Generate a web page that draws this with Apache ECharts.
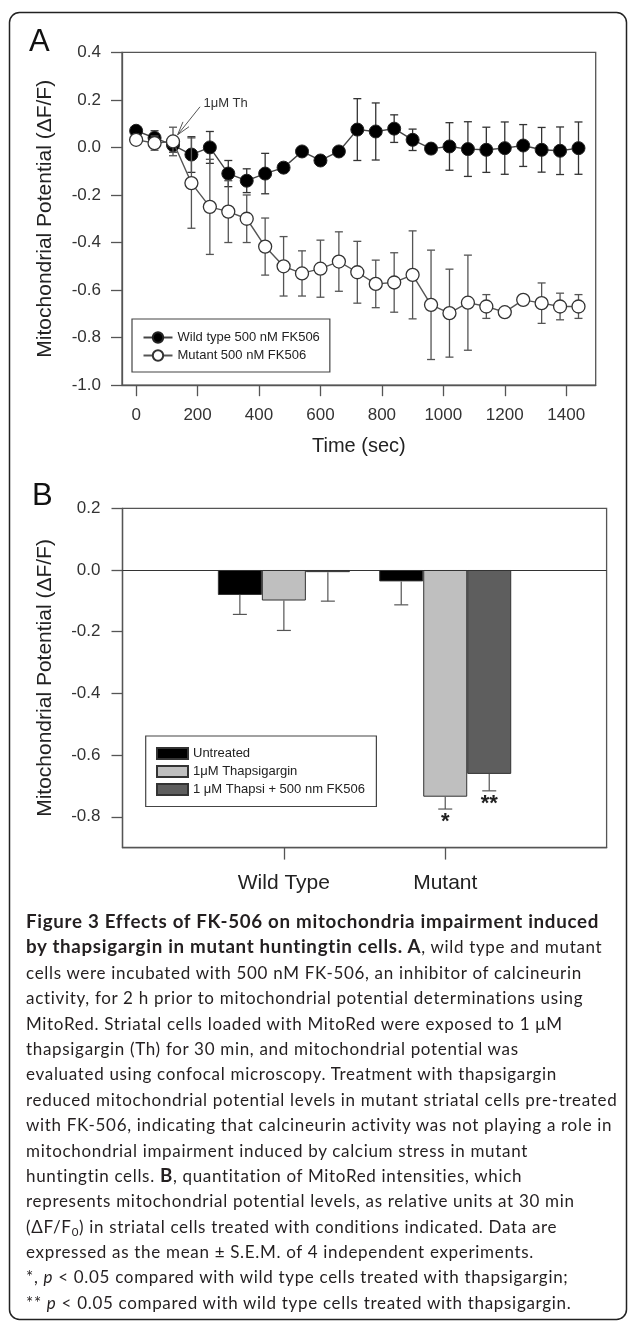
<!DOCTYPE html>
<html>
<head>
<meta charset="utf-8">
<script src="https://cdn.jsdelivr.net/npm/echarts@6/dist/echarts.min.js"></script>
<style>
html,body{margin:0;padding:0;background:#fff;}
#chart{position:absolute;left:0;top:0;width:629px;height:1337px;}
#caption{position:absolute;left:26px;top:909px;font-family:Lato,'Open Sans',sans-serif;font-size:17px;line-height:25.4px;color:#231f20;}
#caption .ln{white-space:nowrap;height:25.4px;}
#caption .ln span{display:inline-block;}
#caption b{line-height:0;}
#caption sub{font-size:0.68em;line-height:0;vertical-align:-0.25em;}
</style>
</head>
<body>
<div id="chart"></div>
<div id="caption">
<div class="ln"><span id="fitbold"><b>Figure 3 Effects of FK-506 on mitochondria impairment induced</b></span></div>
<div class="ln"><span><b>by thapsigargin in mutant huntingtin cells. A</b>, wild type and mutant</span></div>
<div class="ln"><span>cells were incubated with 500 nM FK-506, an inhibitor of calcineurin</span></div>
<div class="ln"><span>activity, for 2 h prior to mitochondrial potential determinations using</span></div>
<div class="ln"><span>MitoRed. Striatal cells loaded with MitoRed were exposed to 1 μM</span></div>
<div class="ln"><span>thapsigargin (Th) for 30 min, and mitochondrial potential was</span></div>
<div class="ln"><span>evaluated using confocal microscopy. Treatment with thapsigargin</span></div>
<div class="ln"><span id="fitline">reduced mitochondrial potential levels in mutant striatal cells pre-treated</span></div>
<div class="ln"><span>with FK-506, indicating that calcineurin activity was not playing a role in</span></div>
<div class="ln"><span>mitochondrial impairment induced by calcium stress in mutant</span></div>
<div class="ln"><span>huntingtin cells. <b>B</b>, quantitation of MitoRed intensities, which</span></div>
<div class="ln"><span>represents mitochondrial potential levels, as relative units at 30 min</span></div>
<div class="ln"><span>(ΔF/F<sub>0</sub>) in striatal cells treated with conditions indicated. Data are</span></div>
<div class="ln"><span>expressed as the mean ± S.E.M. of 4 independent experiments.</span></div>
<div class="ln"><span>*, <i>p</i> &lt; 0.05 compared with wild type cells treated with thapsigargin;</span></div>
<div class="ln"><span>** <i>p</i> &lt; 0.05 compared with wild type cells treated with thapsigargin.</span></div>
</div>
<script>
// ---------- Panel A data ----------
const timeSec = [0,60,120,180,240,300,360,420,480,540,600,660,720,780,840,900,960,1020,1080,1140,1200,1260,1320,1380,1440];
const wildTypeMean = [0.07,0.04,0.01,-0.03,0.0,-0.11,-0.14,-0.11,-0.085,-0.017,-0.055,-0.017,0.075,0.067,0.079,0.032,-0.005,0.004,-0.007,-0.01,-0.003,0.008,-0.01,-0.014,-0.003];
const wildTypeSem  = [0.01,0.03,0.03,0.075,0.067,0.055,0.05,0.085,0.01,0.01,0.01,0.01,0.13,0.12,0.058,0.045,0.01,0.1,0.115,0.095,0.11,0.088,0.094,0.1,0.11];
const mutantMean = [0.032,0.018,0.025,-0.15,-0.25,-0.27,-0.30,-0.417,-0.50,-0.53,-0.51,-0.48,-0.525,-0.574,-0.568,-0.536,-0.662,-0.697,-0.653,-0.669,-0.693,-0.641,-0.655,-0.669,-0.669];
const mutantSem  = [0.02,0.03,0.06,0.19,0.2,0.13,0.1,0.12,0.125,0.095,0.12,0.125,0.13,0.1,0.125,0.185,0.23,0.185,0.2,0.05,0.01,0.015,0.085,0.056,0.05];
const xTicksA = [0,200,400,600,800,1000,1200,1400];
const seriesNamesA = ['Wild type 500 nM FK506','Mutant 500 nM FK506'];
const annotationLabel = '1\u03bcM Th';
const annotation = [208, 0.171, 135, 0.053, 219, 0.186]; // tail t,v ; tip t,v ; text t,v

// ---------- Panel B data ----------
const groupsB = ['Wild Type','Mutant'];
const treatmentsB = ['Untreated','1\u03bcM Thapsigargin','1 \u03bcM Thapsi + 500 nm FK506'];
const untreatedB = [-0.081,-0.037];
const thapsigarginB = [-0.099,-0.735];
const thapsiFK506B = [-0.007,-0.661];
const untreatedErrB = [0.063,0.076];
const thapsigarginErrB = [0.097,0.04];
const thapsiFK506ErrB = [0.094,0.055];
const signifB = [['',''],['','*'],['','**']];
const yTicksB = [-0.8,-0.6,-0.4,-0.2,0.0,0.2];

const FONT = "'Liberation Sans', Arial, sans-serif";
const AX = '#555';
const fmt1 = v => (Math.abs(v) < 1e-9 ? 0 : v).toFixed(1);

function errRenderA(color){
  return function(params, api){
    const x = api.value(0), m = api.value(1), e = api.value(2);
    const t = api.coord([x, m + e]), b = api.coord([x, m - e]);
    const hw = 4;
    const st = {stroke: color, lineWidth: 1.3};
    return {type:'group', children:[
      {type:'line', shape:{x1:t[0], y1:t[1], x2:b[0], y2:b[1]}, style:st},
      {type:'line', shape:{x1:t[0]-hw, y1:t[1], x2:t[0]+hw, y2:t[1]}, style:st},
      {type:'line', shape:{x1:b[0]-hw, y1:b[1], x2:b[0]+hw, y2:b[1]}, style:st}
    ]};
  };
}

const BARW = 44;
function errRenderB(k){
  return function(params, api){
    const c = api.coord([api.value(0), api.value(1)]);
    const lo = api.coord([api.value(0), api.value(1) - api.value(2)]);
    const x = c[0] + (k - 1) * BARW;
    const hw = 7;
    const st = {stroke:'#555', lineWidth:1.2};
    const kids = [
      {type:'line', shape:{x1:x, y1:c[1], x2:x, y2:lo[1]}, style:st},
      {type:'line', shape:{x1:x-hw, y1:lo[1], x2:x+hw, y2:lo[1]}, style:st}
    ];
    const s = signifB[k][params.dataIndex];
    if (s) kids.push({type:'text', style:{x:x, y:lo[1]+2, text:s, align:'center', verticalAlign:'top', fontSize:22, fontWeight:'bold', fill:'#222', fontFamily:FONT}});
    return {type:'group', children:kids};
  };
}

const chart = echarts.init(document.getElementById('chart'), null, {renderer:'canvas'});

const catB = [''].concat(groupsB, [' ']);
const padB = arr => ['-'].concat(arr, ['-']);
const barColors = ['#000000','#bfbfbf','#5e5e5e'];
const barVals = [untreatedB, thapsigarginB, thapsiFK506B];
const barErrs = [untreatedErrB, thapsigarginErrB, thapsiFK506ErrB];

const series = [
  {type:'custom', name:'wtErr', xAxisIndex:0, yAxisIndex:0, z:2, renderItem: errRenderA('#333'),
   encode:{x:0, y:1}, data: timeSec.map((t,i)=>[t, wildTypeMean[i], wildTypeSem[i]]), silent:true},
  {type:'line', name:seriesNamesA[0], xAxisIndex:0, yAxisIndex:0, z:3,
   data: timeSec.map((t,i)=>[t, wildTypeMean[i]]), symbol:'circle', symbolSize:13,
   itemStyle:{color:'#000', borderColor:'#222', borderWidth:1}, lineStyle:{color:'#444', width:1.4}},
  {type:'custom', name:'mtErr', xAxisIndex:0, yAxisIndex:0, z:4, renderItem: errRenderA('#555'),
   encode:{x:0, y:1}, data: timeSec.map((t,i)=>[t, mutantMean[i], mutantSem[i]]), silent:true},
  {type:'line', name:seriesNamesA[1], xAxisIndex:0, yAxisIndex:0, z:5,
   data: timeSec.map((t,i)=>[t, mutantMean[i]]), symbol:'circle', symbolSize:13,
   itemStyle:{color:'#fff', borderColor:'#333', borderWidth:1.3}, lineStyle:{color:'#555', width:1.4}},
  {type:'custom', name:'annot', xAxisIndex:0, yAxisIndex:0, z:6, silent:true,
   encode:{x:[0,2,4], y:[1,3,5]}, data:[annotation],
   renderItem: function(params, api){
     const p0 = api.coord([api.value(0), api.value(1)]);
     const p1 = api.coord([api.value(2), api.value(3)]);
     const pt = api.coord([api.value(4), api.value(5)]);
     const ang = Math.atan2(p0[1]-p1[1], p0[0]-p1[0]);
     const L = 14, sp = 0.28;
     const st = {stroke:'#555', lineWidth:1};
     return {type:'group', children:[
       {type:'line', shape:{x1:p0[0], y1:p0[1], x2:p1[0], y2:p1[1]}, style:st},
       {type:'line', shape:{x1:p1[0], y1:p1[1], x2:p1[0]+L*Math.cos(ang+sp), y2:p1[1]+L*Math.sin(ang+sp)}, style:st},
       {type:'line', shape:{x1:p1[0], y1:p1[1], x2:p1[0]+L*Math.cos(ang-sp), y2:p1[1]+L*Math.sin(ang-sp)}, style:st},
       {type:'text', style:{x:pt[0], y:pt[1], text:annotationLabel, align:'left', verticalAlign:'middle', fontSize:13, fill:'#333', fontFamily:FONT}}
     ]};
   }}
];

treatmentsB.forEach((name, k) => {
  const s = {type:'bar', name:name, xAxisIndex:1, yAxisIndex:1, data: padB(barVals[k]),
    barWidth:BARW, barGap:'0%', z:2,
    itemStyle:{color:barColors[k], borderColor:'#333', borderWidth:1}};
  if (k === 0) {
    s.markLine = {silent:true, symbol:['none','none'], label:{show:false},
      lineStyle:{color:'#333', width:1.2, type:'solid'}, data:[{yAxis:0}], animation:false};
  }
  series.push(s);
  series.push({type:'custom', name:'errB'+k, xAxisIndex:1, yAxisIndex:1, z:3, silent:true,
    renderItem: errRenderB(k), encode:{x:0, y:1},
    data: groupsB.map((g,i)=>[i+1, barVals[k][i], barErrs[k][i]])});
});

const option = {
  animation:false,
  backgroundColor:'#fff',
  textStyle:{fontFamily:FONT},
  graphic:[
    {type:'rect', shape:{x:9.5, y:12.5, width:617, height:1307, r:10}, style:{fill:'none', stroke:'#222', lineWidth:1.5}, silent:true, z:-1},
    {type:'text', left:29, top:27, style:{text:'A', fontSize:31, fill:'#111', fontFamily:FONT}},
    {type:'text', left:32, top:481, style:{text:'B', fontSize:31, fill:'#111', fontFamily:FONT}}
  ],
  grid:[
    {left:122, top:52.3, width:473.7, height:332.9, show:true, borderColor:AX, borderWidth:1.3, backgroundColor:'transparent'},
    {left:122.5, top:508.3, width:484.1, height:339.3, show:true, borderColor:AX, borderWidth:1.3, backgroundColor:'transparent'}
  ],
  xAxis:[
    {type:'value', gridIndex:0, min:-46, max:1496,
     name:'Time (sec)', nameLocation:'middle', nameGap:51, nameTextStyle:{fontSize:20, color:'#222', fontFamily:FONT},
     axisLine:{show:true, onZero:false, lineStyle:{color:AX, width:1.3}},
     axisTick:{show:true, inside:false, length:11, customValues:xTicksA, lineStyle:{color:AX, width:1.3}},
     axisLabel:{show:true, margin:22, customValues:xTicksA, formatter:(v)=>String(Math.round(v)), fontSize:17, color:'#333', fontFamily:FONT},
     splitLine:{show:false}},
    {type:'category', gridIndex:1, data:catB, boundaryGap:false,
     axisLine:{show:true, onZero:false, lineStyle:{color:AX, width:1.3}},
     axisTick:{show:true, length:12, interval:(i)=> i===1 || i===2, lineStyle:{color:AX, width:1.3}},
     axisLabel:{show:true, margin:25, interval:(i)=> i===1 || i===2, fontSize:21, color:'#222', fontFamily:FONT},
     splitLine:{show:false}}
  ],
  yAxis:[
    {type:'value', gridIndex:0, min:-1, max:0.4, interval:0.2,
     name:'Mitochondrial Potential (\u0394F/F)', nameLocation:'middle', nameGap:66,
     nameTextStyle:{fontSize:21, color:'#222', fontFamily:FONT},
     axisLine:{show:true, onZero:false, lineStyle:{color:AX, width:1.3}},
     axisTick:{show:true, length:11, lineStyle:{color:AX, width:1.3}},
     axisLabel:{show:true, margin:21, formatter:fmt1, fontSize:17, color:'#333', fontFamily:FONT},
     splitLine:{show:false}},
    {type:'value', gridIndex:1, min:-0.9, max:0.2,
     name:'Mitochondrial Potential (\u0394F/F)', nameLocation:'middle', nameGap:67,
     nameTextStyle:{fontSize:21, color:'#222', fontFamily:FONT},
     axisLine:{show:true, onZero:false, lineStyle:{color:AX, width:1.3}},
     axisTick:{show:true, length:11, customValues:yTicksB, lineStyle:{color:AX, width:1.3}},
     axisLabel:{show:true, margin:22, customValues:yTicksB, formatter:fmt1, fontSize:17, color:'#333', fontFamily:FONT},
     splitLine:{show:false}}
  ],
  legend:[
    {data:seriesNamesA, orient:'vertical', left:132, top:319, itemWidth:29, itemHeight:13, itemGap:5,
     padding:[12,10,10,10.5], borderColor:'#444', borderWidth:1.2, backgroundColor:'#fff',
     textStyle:{fontSize:13, color:'#222', fontFamily:FONT, lineHeight:13}, selectedMode:false},
    {data:treatmentsB, orient:'vertical', left:145.7, top:736, itemWidth:31, itemHeight:11, itemGap:5,
     icon:'rect', padding:[11,11.5,10.5,10.3], borderColor:'#444', borderWidth:1.2, backgroundColor:'#fff',
     textStyle:{fontSize:13, color:'#222', fontFamily:FONT, lineHeight:13}, selectedMode:false}
  ],
  series: series
};
chart.setOption(option);

// fit caption: regular text by letter-spacing, bold text by font size
(function(){
  const cap = document.getElementById('caption');
  const probe = document.getElementById('fitline');
  const w = probe.getBoundingClientRect().width;
  const ls = (591.7 - w) / probe.textContent.length;
  cap.style.letterSpacing = ls.toFixed(3) + 'px';
  const pb = document.getElementById('fitbold');
  const wb = pb.getBoundingClientRect().width;
  const fs = Math.min(19.5, 17 * 577.7 / wb);
  document.querySelectorAll('#caption b').forEach(b => { b.style.fontSize = fs.toFixed(2) + 'px'; });
})();
</script>
</body>
</html>
